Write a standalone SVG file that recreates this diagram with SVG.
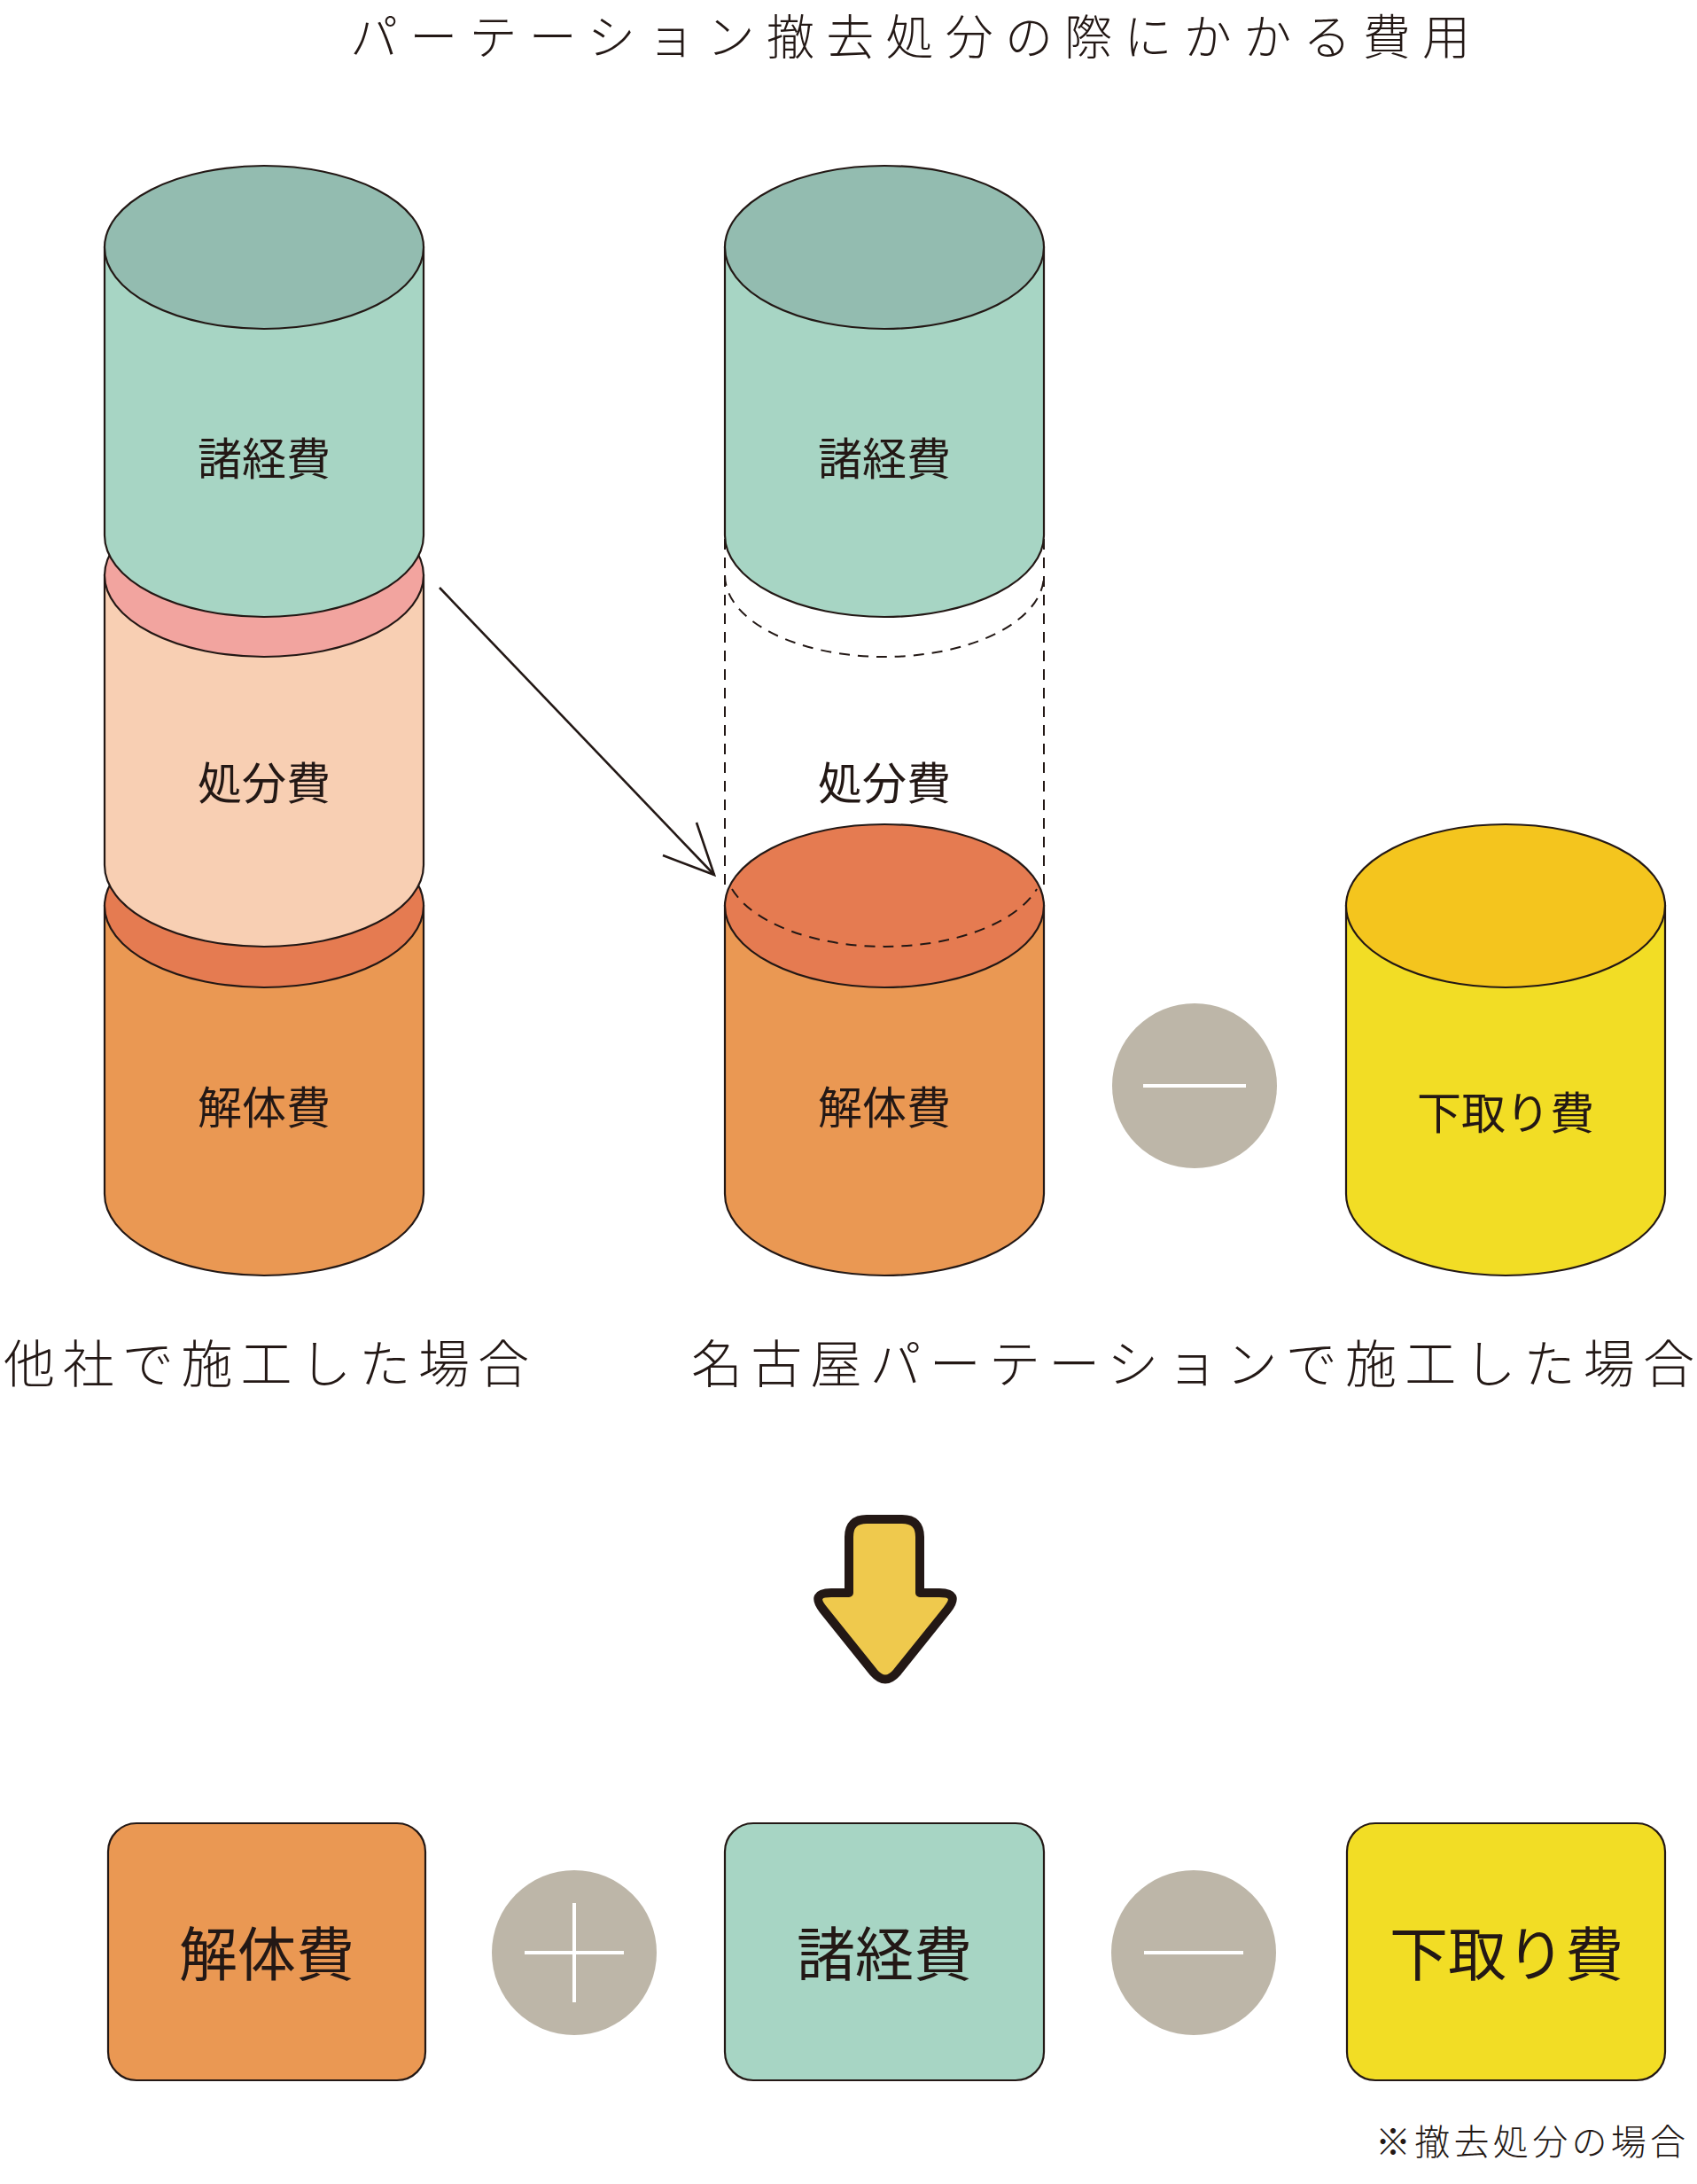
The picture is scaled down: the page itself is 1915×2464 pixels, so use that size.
<svg xmlns="http://www.w3.org/2000/svg" width="1915" height="2464" viewBox="0 0 1915 2464">
<style>
.ol{stroke:#231815;stroke-width:2.2;}
.lbl{font-family:"Noto Sans CJK JP","Noto Sans",sans-serif;fill:#231815;text-anchor:middle;dominant-baseline:central;}
.cap{font-family:"Noto Sans CJK JP","Noto Sans",sans-serif;fill:#231815;font-weight:300;}
.dash{fill:none;stroke:#231815;stroke-width:2;stroke-dasharray:12 9;}
.gtop{fill:#93bcb0}.gbody{fill:#a7d5c4}
.ptop{fill:#f2a49f}.pbody{fill:#f8cfb3}
.otop{fill:#e57b51}.obody{fill:#ea9853}
.ytop{fill:#f4c51e}.ybody{fill:#f2dd25}
.op{fill:#bdb6a8}
.opl{stroke:#ffffff;stroke-width:4;fill:none}
</style>
<rect width="1915" height="2464" fill="#ffffff"/>

<text class="cap" x="395" y="62" font-size="54" textLength="1264" lengthAdjust="spacing">パーテーション撤去処分の際にかかる費用</text>

<!-- Left stack (other company) -->
<g id="left-stack">
  <g id="left-kaitai">
    <path class="obody ol" d="M118,1022 L118,1347 A180,92 0 0 0 478,1347 L478,1022 Z"/>
    <ellipse class="otop ol" cx="298" cy="1022" rx="180" ry="92"/>
    <text class="lbl" x="298" y="1246" font-size="50">解体費</text>
  </g>
  <g id="left-shobun">
    <path class="pbody ol" d="M118,649 L118,976 A180,92 0 0 0 478,976 L478,649 Z"/>
    <ellipse class="ptop ol" cx="298" cy="649" rx="180" ry="92"/>
    <text class="lbl" x="298" y="880" font-size="50">処分費</text>
  </g>
  <g id="left-shokeihi">
    <path class="gbody ol" d="M118,279 L118,604 A180,92 0 0 0 478,604 L478,279 Z"/>
    <ellipse class="gtop ol" cx="298" cy="279" rx="180" ry="92"/>
    <text class="lbl" x="298" y="514" font-size="50">諸経費</text>
  </g>
</g>

<!-- Middle stack (Nagoya partition) -->
<g id="mid-stack">
  <g id="mid-shobun-ghost">
    <line class="dash" x1="818" y1="608" x2="818" y2="1000"/>
    <line class="dash" x1="1178" y1="608" x2="1178" y2="1000"/>
    <path class="dash" d="M818,649 A180,92 0 0 0 1178,649"/>
    <text class="lbl" x="998" y="880" font-size="50">処分費</text>
  </g>
  <g id="mid-shokeihi">
    <path class="gbody ol" d="M818,279 L818,604 A180,92 0 0 0 1178,604 L1178,279 Z"/>
    <ellipse class="gtop ol" cx="998" cy="279" rx="180" ry="92"/>
    <text class="lbl" x="998" y="514" font-size="50">諸経費</text>
  </g>
  <g id="mid-kaitai">
    <path class="obody ol" d="M818,1022 L818,1347 A180,92 0 0 0 1178,1347 L1178,1022 Z"/>
    <ellipse class="otop ol" cx="998" cy="1022" rx="180" ry="92"/>
    <path class="dash" d="M826,1003 A180,92 0 0 0 1170,1003"/>
    <text class="lbl" x="998" y="1246" font-size="50">解体費</text>
  </g>
</g>

<g id="minus-top">
  <circle class="op" cx="1348" cy="1225" r="93"/>
  <line class="opl" x1="1290" y1="1225" x2="1406" y2="1225"/>
</g>

<g id="shitadori-cyl">
  <path class="ybody ol" d="M1519,1022 L1519,1347 A180,92 0 0 0 1879,1347 L1879,1022 Z"/>
  <ellipse class="ytop ol" cx="1699" cy="1022" rx="180" ry="92"/>
  <text class="lbl" x="1699" y="1252" font-size="50">下取り費</text>
</g>

<g id="connectors">
  <line x1="496" y1="663" x2="806" y2="987" stroke="#231815" stroke-width="2.6"/>
  <polyline points="748,965 806,987 786,928" fill="none" stroke="#231815" stroke-width="2.6"/>
</g>

<text class="cap" x="4" y="1560" font-size="58" textLength="593" lengthAdjust="spacing">他社で施工した場合</text>
<text class="cap" x="780" y="1560" font-size="58" textLength="1132" lengthAdjust="spacing">名古屋パーテーションで施工した場合</text>

<g id="down-arrow">
  <path d="M958,1797 L958,1734 Q958,1714 978,1714 L1018,1714 Q1038,1714 1038,1734 L1038,1797 L1060,1797 Q1084,1797 1069,1816 L1012,1887 Q999,1902 986,1887 L929,1816 Q914,1797 938,1797 Z" fill="#efc94d" stroke="#231815" stroke-width="10" stroke-linejoin="round"/>
</g>

<g id="box-kaitai">
  <rect x="122" y="2057" width="358" height="290" rx="32" class="obody ol"/>
  <text class="lbl" x="301" y="2200" font-size="66">解体費</text>
</g>
<g id="plus-bottom">
  <circle class="op" cx="648" cy="2203" r="93"/>
  <line class="opl" x1="592" y1="2203" x2="704" y2="2203"/>
  <line class="opl" x1="648" y1="2147" x2="648" y2="2259"/>
</g>
<g id="box-shokeihi">
  <rect x="818" y="2057" width="360" height="290" rx="32" class="gbody ol"/>
  <text class="lbl" x="998" y="2200" font-size="66">諸経費</text>
</g>
<g id="minus-bottom">
  <circle class="op" cx="1347" cy="2203" r="93"/>
  <line class="opl" x1="1291" y1="2203" x2="1403" y2="2203"/>
</g>
<g id="box-shitadori">
  <rect x="1520" y="2057" width="359" height="290" rx="32" class="ybody ol"/>
  <text class="lbl" x="1700" y="2200" font-size="66">下取り費</text>
</g>

<text class="cap" x="1552" y="2431" font-size="40" textLength="350" lengthAdjust="spacing">※撤去処分の場合</text>
</svg>
